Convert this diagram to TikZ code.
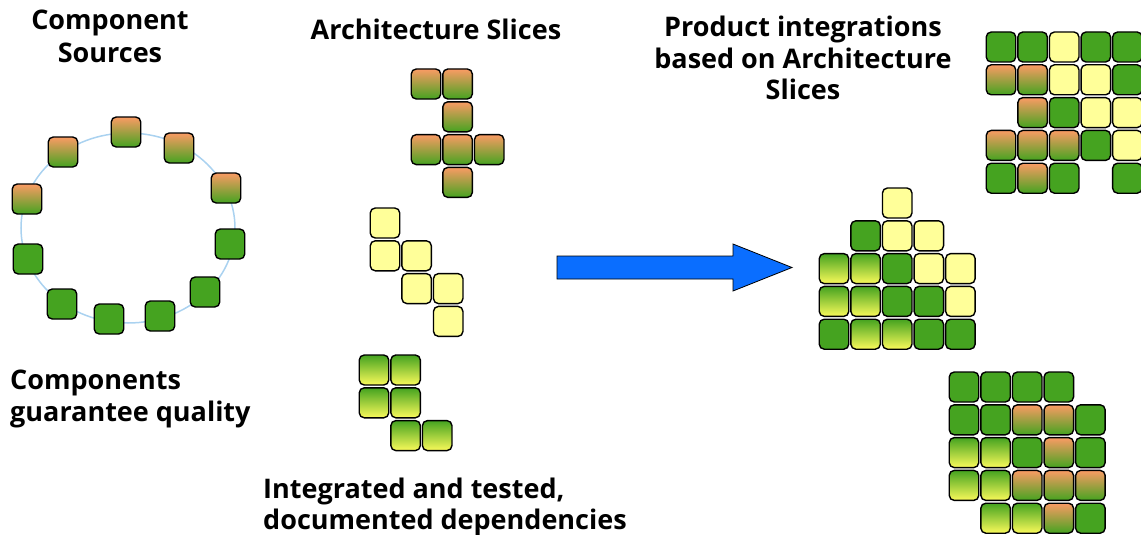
\documentclass[tikz,border=0pt]{standalone}
\usepackage{fontspec}
\setmainfont{Open Sans}
\usepackage{tikz}
\usetikzlibrary{positioning}

\definecolor{tileGreen}{RGB}{69,163,32}
\definecolor{tileYellow}{RGB}{255,255,153}
\definecolor{tileOrange}{RGB}{250,155,100}
\definecolor{tileLemon}{RGB}{250,250,90}
\definecolor{ringBlue}{RGB}{170,210,240}
\definecolor{arrowBlue}{RGB}{10,110,255}

% grid of tiles: origin x, origin y, name, rows of column/style
\newcommand{\tilegrid}[4]{%
  \foreach \tilerow [count=\r from 0] in {#4}
    \foreach \k/\s in \tilerow
      \node[\s] (#3-\r-\k) at ({#1+31.6*(\k-1)},{#2+32.8*\r}) {};
}

\begin{document}
\begin{tikzpicture}[x=1pt, y=-1pt,
    tile/.style={draw=black, line width=1.4pt, rounded corners=5pt,
                 minimum width=29.5pt, minimum height=30pt, inner sep=0pt},
    tileG/.style={tile, fill=tileGreen},
    tileY/.style={tile, fill=tileYellow},
    tileO/.style={tile, top color=tileOrange, bottom color=tileGreen},
    tileL/.style={tile, top color=tileGreen, bottom color=tileLemon},
    caption/.style={font=\bfseries\fontsize{27}{32}\selectfont, inner sep=0pt},
    bigarrow/.style={draw=black, line width=0.8pt, fill=arrowBlue}]

    \useasboundingbox (0,0) rectangle (1141,535);

    % --- Captions ---
    \node[caption, align=center, anchor=north, font=\bfseries\fontsize{27}{33}\selectfont]
        (srcT) at (110,10) {Component\\Sources};
    \node[caption, anchor=north] (sliceT) at (436,19) {Architecture Slices};
    \node[caption, align=center, anchor=north, font=\bfseries\fontsize{27}{31.5}\selectfont]
        (prodT) at (803,16) {Product integrations\\based on Architecture\\Slices};
    \node[caption, align=left, anchor=north west] (qualT) at (10,370) {Components\\guarantee quality};
    \node[caption, align=left, anchor=north west, font=\bfseries\fontsize{27}{31}\selectfont]
        (depT) at (263,478) {Integrated and tested,\\documented dependencies};

    % --- Component ring ---
    \draw[ringBlue, line width=1.5pt] (128,228) ellipse (107 and 95);
    \foreach \x/\y/\s [count=\i] in {126/132/tileO, 179/148/tileO, 226/188/tileO,
        230/244/tileG, 205/292/tileG, 160/316/tileG, 109/319/tileG,
        62/304/tileG, 28/259/tileG, 27/199/tileO, 63/152/tileO}
      \node[\s] (comp\i) at (\x,\y) {};

    % --- Architecture slices ---
    \tilegrid{426}{84}{orS}{{1/tileO,2/tileO},{2/tileO},{1/tileO,2/tileO,3/tileO},{2/tileO}}
    \tilegrid{385}{223}{yeS}{{1/tileY},{1/tileY,2/tileY},{2/tileY,3/tileY},{3/tileY}}
    \tilegrid{374}{370}{lmS}{{1/tileL,2/tileL},{1/tileL,2/tileL},{2/tileL,3/tileL}}

    % --- Arrow ---
    \draw[bigarrow] (557,256) -- (733,256) -- (733,244) -- (792,267.5)
        -- (733,291) -- (733,279) -- (557,279) -- cycle;

    % --- Product integrations ---
    \tilegrid{1001}{47}{prA}{{1/tileG,2/tileG,3/tileY,4/tileG,5/tileG},
        {1/tileO,2/tileO,3/tileY,4/tileY,5/tileG},
        {2/tileO,3/tileG,4/tileY,5/tileY},
        {1/tileO,2/tileO,3/tileO,4/tileG,5/tileY},
        {1/tileG,2/tileO,3/tileG,5/tileG}}
    \tilegrid{834}{203}{prB}{{3/tileY},
        {2/tileG,3/tileY,4/tileY},
        {1/tileL,2/tileL,3/tileG,4/tileY,5/tileY},
        {1/tileL,2/tileL,3/tileG,4/tileG,5/tileY},
        {1/tileG,2/tileL,3/tileL,4/tileG,5/tileG}}
    \tilegrid{964}{387}{prC}{{1/tileG,2/tileG,3/tileG,4/tileG},
        {1/tileG,2/tileG,3/tileO,4/tileO,5/tileG},
        {1/tileL,2/tileL,3/tileG,4/tileO,5/tileG},
        {1/tileL,2/tileL,3/tileO,4/tileO,5/tileO},
        {2/tileL,3/tileL,4/tileO,5/tileG}}

\end{tikzpicture}
\end{document}
